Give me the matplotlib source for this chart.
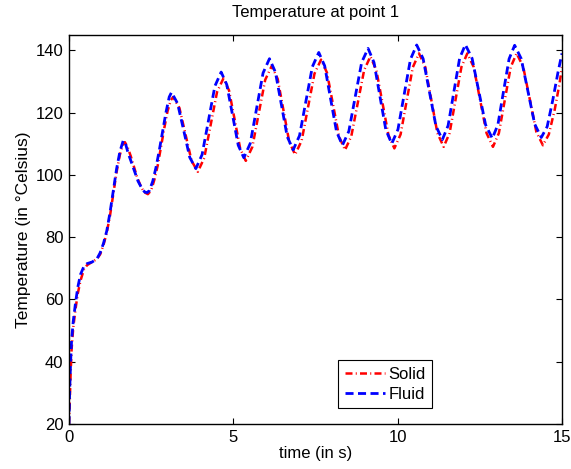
import matplotlib
matplotlib.use("Agg")
from matplotlib import pyplot as plt

plt.rcParams["font.family"] = ["Liberation Sans", "DejaVu Sans"]
plt.rcParams["font.size"] = 12

# Fluid temperature (blue dashed)
fluid_t = [0, 0.02, 0.05, 0.08, 0.13, 0.2, 0.27, 0.35, 0.45, 0.55, 0.7, 0.85, 0.95,
           1.05, 1.15, 1.25, 1.35, 1.45, 1.55, 1.65, 1.72, 1.8, 1.9, 2.0, 2.1, 2.2,
           2.3, 2.38, 2.45, 2.55, 2.65, 2.75, 2.85, 2.95, 3.05, 3.12,
           3.305, 3.49, 3.675, 3.86, 4.05, 4.245, 4.44, 4.63,
           4.80, 4.975, 5.15, 5.32, 5.515, 5.71, 5.905, 6.1,
           6.28, 6.46, 6.64, 6.82, 7.015, 7.21, 7.405, 7.6,
           7.78, 7.96, 8.14, 8.32, 8.515, 8.71, 8.905, 9.1,
           9.28, 9.46, 9.64, 9.82, 10.01, 10.2, 10.39, 10.58,
           10.775, 10.97, 11.165, 11.36, 11.535, 11.71, 11.885, 12.06,
           12.265, 12.47, 12.675, 12.88, 13.05, 13.22, 13.39, 13.56,
           13.76, 13.965, 14.17, 14.37, 14.55, 14.72, 14.88, 15.0]
fluid_T = [20, 30, 40, 47, 53, 59, 64, 68, 70.5, 71.5, 72, 73, 75,
           78, 82, 88, 95, 102, 107.5, 111, 110, 107, 104, 101, 98, 96,
           94.5, 94.3, 95, 98, 102.5, 108, 114, 120, 125, 126.5,
           122.9, 114.3, 105.6, 102, 106.5, 117.5, 128.5, 133,
           129, 119.3, 109.5, 105.5, 110.1, 121.4, 132.7, 137.3,
           133, 122.7, 112.3, 108, 112.6, 123.7, 134.7, 139.3,
           135, 124.4, 113.9, 109.5, 114, 125.1, 136.1, 140.6,
           136.1, 125.3, 114.5, 110, 114.6, 125.9, 137.1, 141.7,
           137.3, 126.5, 115.7, 111.3, 115.8, 126.6, 137.4, 141.8,
           137.4, 126.8, 116.1, 111.7, 116.1, 126.7, 137.2, 141.6,
           137.3, 126.8, 116.3, 112, 115.5, 124, 133, 139]

# Solid temperature (red dash-dot)
solid_t = [0, 0.02, 0.05, 0.08, 0.13, 0.2, 0.27, 0.35, 0.45, 0.55, 0.7, 0.85, 0.95,
           1.05, 1.15, 1.25, 1.35, 1.45, 1.55, 1.63, 1.7, 1.78, 1.88, 1.98, 2.08,
           2.18, 2.28, 2.4, 2.5, 2.6, 2.7, 2.8, 2.9, 3.0, 3.1, 3.17,
           3.36, 3.545, 3.73, 3.92, 4.115, 4.31, 4.505, 4.7,
           4.87, 5.04, 5.21, 5.38, 5.58, 5.775, 5.97, 6.17,
           6.35, 6.525, 6.7, 6.88, 7.08, 7.275, 7.47, 7.67,
           7.85, 8.035, 8.22, 8.4, 8.59, 8.785, 8.98, 9.17,
           9.35, 9.535, 9.72, 9.9, 10.09, 10.275, 10.46, 10.65,
           10.84, 11.025, 11.21, 11.4, 11.58, 11.76, 11.94, 12.12,
           12.315, 12.51, 12.705, 12.9, 13.08, 13.26, 13.44, 13.62,
           13.82, 14.02, 14.22, 14.42, 14.6, 14.78, 14.92, 15.0]
solid_T = [20, 26, 36, 44, 51, 57, 62, 66, 69.5, 71, 72, 73, 74.5,
           77.5, 81.5, 87, 94, 101, 106.5, 109.5, 110.5, 109, 106, 102.5, 99,
           96.5, 94.5, 93.8, 95, 98.5, 103, 109, 115, 120.5, 124, 125,
           121.5, 113, 104.5, 101, 105.4, 116, 126.6, 131,
           127.1, 117.8, 108.4, 104.5, 109, 119.8, 130.5, 135,
           130.8, 120.8, 110.7, 106.5, 111, 121.8, 132.5, 137,
           132.8, 122.5, 112.2, 108, 112.4, 123, 133.6, 138,
           133.7, 123.3, 112.8, 108.5, 113, 123.8, 134.5, 139,
           134.6, 124, 113.4, 109, 113.4, 124, 134.6, 139,
           134.6, 124, 113.4, 109, 113.4, 124, 134.6, 139,
           134.7, 124.3, 113.8, 109.5, 113, 121, 129, 134.5]

fig = plt.figure(figsize=(5.71, 4.69), dpi=100)
ax = fig.add_axes([0.1208, 0.0959, 0.8634, 0.8301])

ax.plot(solid_t, solid_T, color="red", linestyle="-.", linewidth=1.8,
        dashes=(2.8, 1.3, 0.4, 1.3), label="Solid")
ax.plot(fluid_t, fluid_T, color="blue", linestyle="--", linewidth=2.0,
        dashes=(2.9, 1.6), label="Fluid")

ax.set_xlim(0, 15)
ax.set_ylim(20, 145)
ax.set_xticks([0, 5, 10, 15])
ax.set_yticks([20, 40, 60, 80, 100, 120, 140])
ax.tick_params(direction="in", top=True, right=True, length=4, width=0.8,
               labelsize=12, pad=4)
for s in ax.spines.values():
    s.set_linewidth(1.0)

ax.set_xlabel("time (in s)", labelpad=1)
ax.set_ylabel("Temperature (in \u00b0Celsius)", fontsize=12.5, labelpad=3)
ax.set_title("Temperature at point 1", fontsize=12, pad=13)

leg = ax.legend(loc="lower left", bbox_to_anchor=(0.546, 0.04), fancybox=False,
                framealpha=1, edgecolor="black", handlelength=2.4,
                handletextpad=0.2, borderpad=0.4, labelspacing=0.3,
                fontsize=12, borderaxespad=0)
leg.get_frame().set_linewidth(0.8)

fig.savefig("out.png", dpi=100)
